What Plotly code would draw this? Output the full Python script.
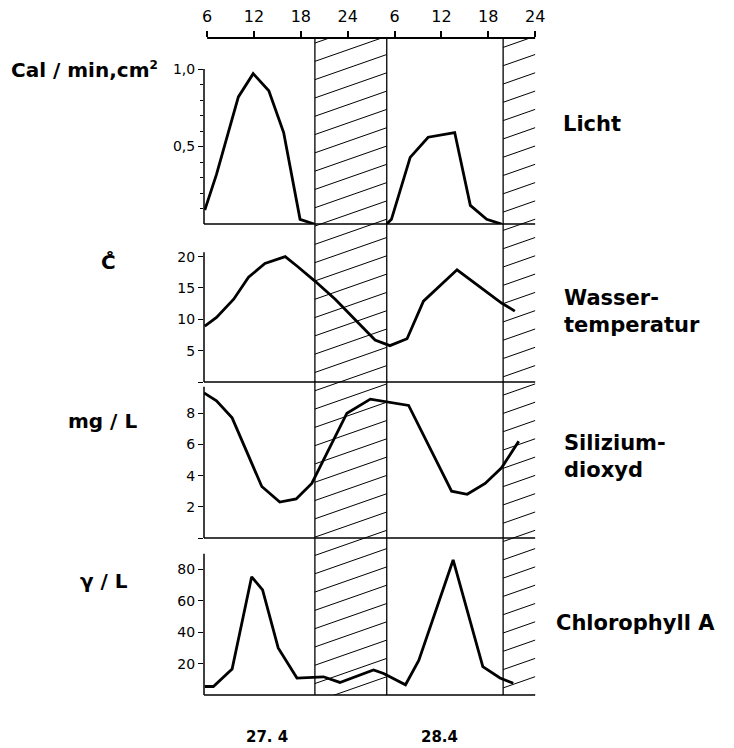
import numpy as np
import plotly.graph_objects as go

# ---------------- data ----------------
hour_ticks = [6, 12, 18, 24, 30, 36, 42, 48]
hour_labels = ["6", "12", "18", "24", "6", "12", "18", "24"]
nights = [[19.8, 29.0], [43.9, 48.0]]
day_labels = ["27. 4", "28.4"]
day_centers = [13.7, 35.7]

light_t = [5.7, 7.2, 10.0, 11.9, 13.9, 15.8, 17.9, 19.7, None,
           29.0, 29.6, 32.0, 34.3, 37.7, 39.7, 41.8, 43.7]
light_v = [0.09, 0.32, 0.82, 0.97, 0.86, 0.59, 0.03, 0.0, None,
           0.0, 0.03, 0.43, 0.56, 0.59, 0.12, 0.03, 0.0]

temp_t = [5.7, 7.2, 9.4, 11.3, 13.4, 16.0, 17.5, 19.8, 22.4, 24.7, 27.5,
          29.4, 31.6, 33.7, 38.0, 43.7, 45.4]
temp_v = [8.9, 10.3, 13.2, 16.7, 18.9, 20.0, 18.5, 16.1, 13.2, 10.2, 6.7,
          5.8, 6.9, 12.9, 17.9, 12.6, 11.3]

si_t = [5.6, 7.2, 9.2, 13.0, 15.3, 17.4, 19.4, 23.9, 26.9, 31.8, 37.3,
        39.3, 41.6, 43.7, 45.9]
si_v = [9.3, 8.8, 7.7, 3.3, 2.3, 2.5, 3.5, 8.0, 8.9, 8.5, 3.0,
        2.8, 3.5, 4.5, 6.2]

chl_t = [5.7, 6.8, 9.2, 11.7, 13.1, 15.1, 17.5, 20.9, 23.0, 27.3, 28.6,
         31.4, 33.1, 37.5, 41.3, 43.5, 45.2]
chl_v = [5.4, 5.4, 16.6, 75.3, 67.0, 30.0, 10.8, 11.6, 8.0, 16.0, 13.7,
         6.5, 22.0, 86.0, 18.0, 10.8, 7.5]

units = ["Cal / min,cm<sup><span style='font-size:12px'>2</span></sup>",
         "C\u030A", "mg / L", "γ / L"]
names = ["Licht", "Wasser-<br>temperatur", "Silizium-<br>dioxyd", "Chlorophyll A"]

# ---------------- layout geometry ----------------
W, H = 734, 748
L, R, T, B = 204, 197, 38, 53
PW, PH = W - L - R, H - T - B
XMIN = 5.6
PXH = 7.81                      # px per hour
XMAX = XMIN + PW / PXH

def py2paper(py):
    return (H - B - py) / PH

def px2paper(px):
    return (px - L) / PW

bounds = [38, 224, 382, 538, 695]
domains = [[py2paper(bounds[i + 1]), py2paper(bounds[i])] for i in range(4)]
yranges = [[0, 1.2], [0, 25.2], [0, 10], [0, 100]]
axis_tops = [1.0, 20.7, 9.7, 90]

fig = go.Figure()

# hatch lines (on a full-height helper axis in pixel units)
hx, hy = [], []
slope = 0.35
spacing = 18.3
for a, b in nights:
    wpx = (b - a) * PXH
    rise = slope * wpx
    for c in np.arange(-rise, PH + spacing, spacing):
        hx += [a, b, None]
        hy += [c, c + rise, None]
fig.add_trace(go.Scatter(x=hx, y=hy, mode="lines", xaxis="x", yaxis="y5",
                         line=dict(color="black", width=1),
                         showlegend=False, hoverinfo="skip"))

series = [(light_t, light_v), (temp_t, temp_v), (si_t, si_v), (chl_t, chl_v)]
for i, (t, v) in enumerate(series):
    fig.add_trace(go.Scatter(
        x=t, y=v, mode="lines", xaxis="x", yaxis="y" if i == 0 else f"y{i+1}",
        line=dict(color="black", width=2.8), connectgaps=False,
        showlegend=False, hoverinfo="skip"))

tick_font = dict(family="DejaVu Sans", size=14, color="black")

layout = dict(
    width=W, height=H,
    margin=dict(l=L, r=R, t=T, b=B, autoexpand=False),
    paper_bgcolor="white", plot_bgcolor="rgba(0,0,0,0)",
    showlegend=False,
    xaxis=dict(range=[XMIN, XMAX], side="top", anchor="y5", automargin=False,
               tickvals=hour_ticks, ticktext=hour_labels,
               ticks="outside", ticklen=6, tickwidth=1.5, tickcolor="black",
               ticklabelstandoff=3,
               showline=False, showgrid=False, zeroline=False,
               tickfont=dict(family="DejaVu Sans", size=16, color="black")),
    yaxis5=dict(domain=[0, 1], range=[0, PH], visible=False, anchor="x",
                automargin=False),
)

ytick_specs = [
    dict(tickvals=[0.5, 1.0], ticktext=["0,5", "1,0"],
         minor=dict(tickvals=[0.1, 0.2, 0.3, 0.4, 0.6, 0.7, 0.8, 0.9],
                    ticks="outside", ticklen=3, tickcolor="black", tickwidth=1)),
    dict(tickvals=[5, 10, 15, 20], ticktext=["5", "10", "15", "20"],
         minor=dict(tickvals=[0], ticks="outside", ticklen=5, tickcolor="black", tickwidth=1.2)),
    dict(tickvals=[2, 4, 6, 8], ticktext=["2", "4", "6", "8"],
         minor=dict(tickvals=[0], ticks="outside", ticklen=5, tickcolor="black", tickwidth=1.2)),
    dict(tickvals=[20, 40, 60, 80], ticktext=["20", "40", "60", "80"]),
]
for i in range(4):
    key = "yaxis" if i == 0 else f"yaxis{i+1}"
    spec = dict(domain=domains[i], range=yranges[i], anchor="x", automargin=False,
                ticks="outside", ticklen=5, tickwidth=1.2, tickcolor="black",
                showline=False, showgrid=False, zeroline=False,
                tickfont=tick_font)
    spec.update(ytick_specs[i])
    layout[key] = spec
fig.update_layout(**layout)

shapes = []
line_k = dict(color="black", width=1.6)
shapes.append(dict(type="line", xref="x", yref="paper", x0=6, x1=48, y0=1, y1=1,
                   line=dict(color="black", width=1.8)))
for i in range(4):
    yref = "y" if i == 0 else f"y{i+1}"
    shapes.append(dict(type="line", xref="x", yref="paper", x0=XMIN, x1=48,
                       y0=domains[i][0], y1=domains[i][0], line=line_k))
    shapes.append(dict(type="line", xref="paper", yref=yref, x0=0, x1=0,
                       y0=0, y1=axis_tops[i], line=dict(color="black", width=1.5)))
for a, b in nights:
    for xb in (a, b):
        if xb < 47.5:
            shapes.append(dict(type="line", xref="x", yref="paper", x0=xb, x1=xb,
                               y0=0, y1=1, line=dict(color="black", width=1.3)))
fig.update_layout(shapes=shapes)

ann = []
lab_font = dict(family="DejaVu Sans", size=20, color="black")
left_pos = [(9, 70), (99, 262), (66, 421), (78, 581)]
for (px, py), txt in zip(left_pos, units):
    ann.append(dict(x=px2paper(px), y=py2paper(py), xref="paper", yref="paper",
                    text=f"<b>{txt}</b>", showarrow=False, xanchor="left",
                    yanchor="middle", font=lab_font))
right_pos = [(561, 124), (562, 311), (562, 456), (554, 623)]
for (px, py), txt in zip(right_pos, names):
    ann.append(dict(x=px2paper(px), y=py2paper(py), xref="paper", yref="paper",
                    text=f"<b>{txt}</b>", showarrow=False, xanchor="left",
                    yanchor="middle", align="left",
                    font=dict(family="DejaVu Sans", size=21, color="black")))
for xc, txt in zip(day_centers, day_labels):
    ann.append(dict(x=xc, y=py2paper(737), xref="x", yref="paper",
                    text=f"<b>{txt}</b>", showarrow=False, xanchor="center",
                    yanchor="middle",
                    font=dict(family="DejaVu Sans", size=15, color="black")))
fig.update_layout(annotations=ann)

fig.write_html("out.html")
